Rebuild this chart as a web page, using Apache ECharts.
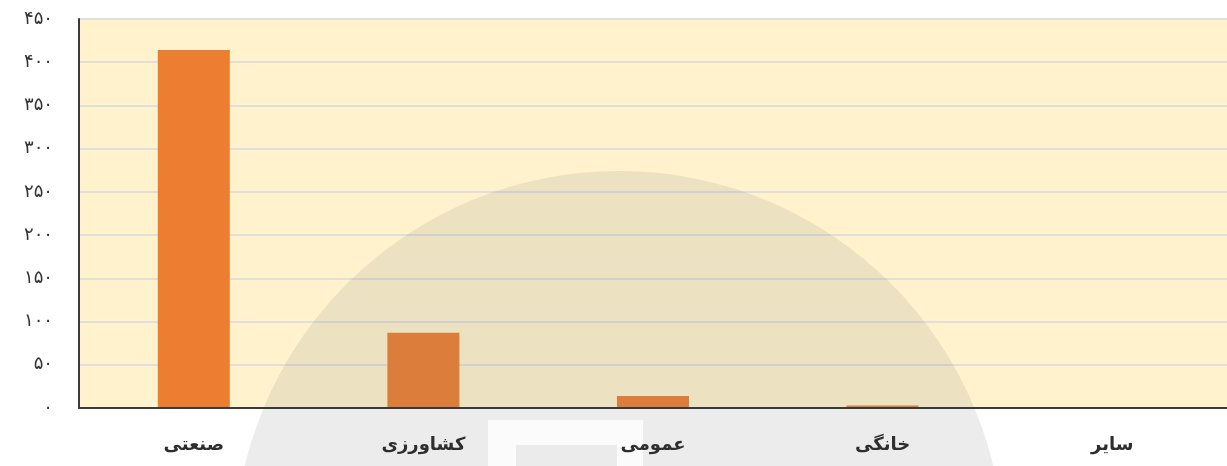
<!DOCTYPE html>
<html>
<head>
<meta charset="utf-8">
<script src="https://cdn.jsdelivr.net/npm/echarts@6/dist/echarts.min.js"></script>
<style>
html,body{margin:0;padding:0;background:#ffffff;}
#chart{width:1227px;height:466px;}
</style>
</head>
<body>
<div id="chart"></div>
<script>
var categories = ['صنعتی', 'کشاورزی', 'عمومی', 'خانگی', 'سایر'];
var values = [414, 87, 14, 3, 0];
var yTickLabels = ['۰', '۵۰', '۱۰۰', '۱۵۰', '۲۰۰', '۲۵۰', '۳۰۰', '۳۵۰', '۴۰۰', '۴۵۰'];

var chart = echarts.init(document.getElementById('chart'), null, {renderer: 'canvas'});
chart.setOption({
  animation: false,
  backgroundColor: '#ffffff',
  grid: {
    left: 79, right: 0, top: 19, bottom: 58,
    show: true, backgroundColor: '#FFF2CC', borderWidth: 0
  },
  xAxis: {
    type: 'category',
    data: categories,
    z: 20,
    axisLine: {show: true, lineStyle: {color: '#3A3A3A', width: 2}},
    axisTick: {show: false},
    axisLabel: {
      margin: 28, fontSize: 18, fontWeight: 'bold', color: '#2E2E2E',
      fontFamily: 'DejaVu Sans'
    },
    splitLine: {show: false}
  },
  yAxis: {
    type: 'value',
    min: 0, max: 450, interval: 50,
    axisLine: {show: true, lineStyle: {color: '#3A3A3A', width: 2}},
    axisTick: {show: false},
    axisLabel: {
      margin: 26, fontSize: 18, color: '#333333', fontFamily: 'DejaVu Sans',
      formatter: function (v) { return yTickLabels[Math.round(v / 50)]; }
    },
    splitLine: {show: true, lineStyle: {color: '#E0DFDA', width: 2}}
  },
  series: [{
    type: 'bar',
    data: values,
    barWidth: 72,
    itemStyle: {color: '#ED7D31'}
  }],
  graphic: [
    {type: 'circle', z: 10, silent: true, shape: {cx: 619, cy: 556, r: 385},
     style: {fill: 'rgba(128,128,128,0.15)'}},
    {type: 'rect', z: 11, silent: true, shape: {x: 488, y: 420, width: 155, height: 46},
     style: {fill: '#fbfbfb'}},
    {type: 'rect', z: 12, silent: true, shape: {x: 516, y: 445, width: 101, height: 21},
     style: {fill: 'rgba(128,128,128,0.13)'}}
  ]
});
</script>
</body>
</html>
